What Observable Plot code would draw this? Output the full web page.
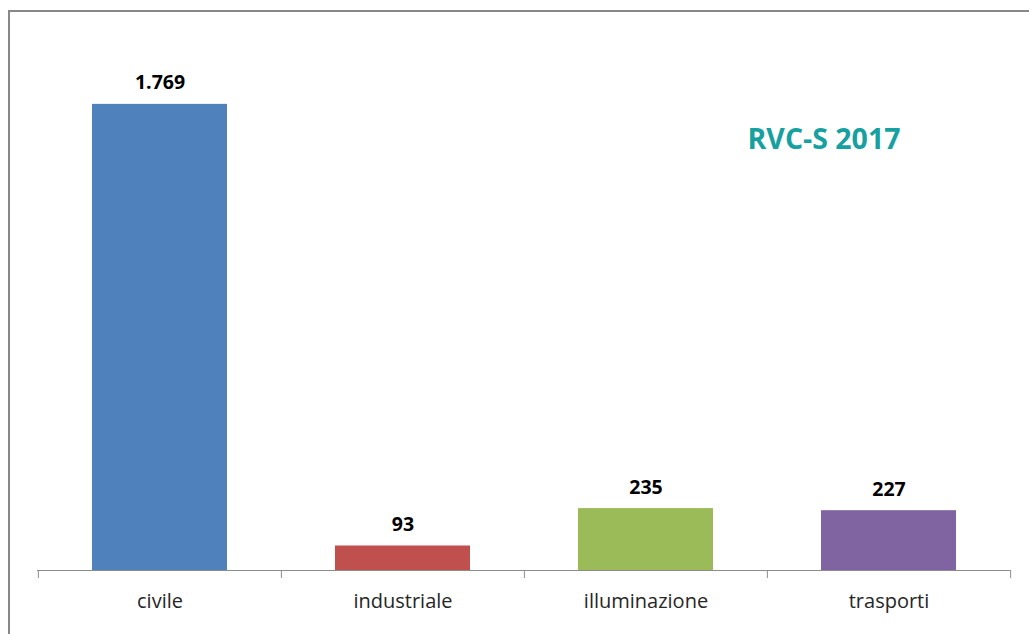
<!DOCTYPE html>
<html>
<head>
<meta charset="utf-8">
<script src="https://cdn.jsdelivr.net/npm/d3@7"></script>
<script src="https://cdn.jsdelivr.net/npm/@observablehq/plot@0.6"></script>
<style>
  html, body { margin: 0; padding: 0; width: 1029px; height: 634px; overflow: hidden; background: #fff; }
  #frame { position: absolute; left: 8px; top: 10px; width: 1200px; height: 800px; border: 2px solid #888; box-sizing: border-box; }
  #chart { position: absolute; left: 0; top: 0; }
</style>
</head>
<body>
<div id="frame"></div>
<div id="chart"></div>
<script>
const categories = ["civile", "industriale", "illuminazione", "trasporti"];
const values = [1769, 93, 235, 227];
const labels = ["1.769", "93", "235", "227"];
const colors = ["#4f81bd", "#c0504d", "#9bbb59", "#8064a2"];
const title = "RVC-S 2017";

const data = categories.map((c, i) => ({cat: c, value: values[i], label: labels[i], color: colors[i]}));

const W = 1029, H = 634, mL = 37, mR = 19, mT = 43, mB = 64;
const step = (W - mL - mR) / categories.length;
const boundaries = categories.map(c => ({cat: c})).concat([{cat: categories[categories.length - 1]}]);

const font = "'Open Sans', sans-serif";

const chart = Plot.plot({
  width: W,
  height: H,
  marginLeft: mL,
  marginRight: mR,
  marginTop: mT,
  marginBottom: mB,
  style: {fontFamily: font, background: "transparent"},
  x: {domain: categories, paddingInner: 0.445, paddingOuter: 0.2225, label: null},
  y: {domain: [0, 2000], axis: null},
  color: {type: "identity"},
  marks: [
    Plot.barY(data, {x: "cat", y: "value", fill: "color"}),
    Plot.ruleY([0], {stroke: "#8c8c8c", strokeWidth: 1}),
    Plot.ruleX(boundaries.slice(0, -1), {x: "cat", y1: 0, y2: 0, insetBottom: -8, dx: -step / 2, stroke: "#8c8c8c"}),
    Plot.ruleX(boundaries.slice(-1), {x: "cat", y1: 0, y2: 0, insetBottom: -8, dx: step / 2, stroke: "#8c8c8c"}),
    Plot.text(data, {x: "cat", y: "value", text: "label", lineAnchor: "bottom", dy: -15, fontSize: 19.5, fontWeight: "bold", fill: "#000"}),
    Plot.axisX({tickSize: 0, tickPadding: 23, fontSize: 20, fill: "#262626", label: null}),
    Plot.text([title], {frameAnchor: "top-right", textAnchor: "end", lineAnchor: "middle", dx: -110, dy: 96, fontSize: 28.5, fontWeight: "bold", fill: "#16a0a0"})
  ]
});
document.getElementById("chart").appendChild(chart);
</script>
</body>
</html>
